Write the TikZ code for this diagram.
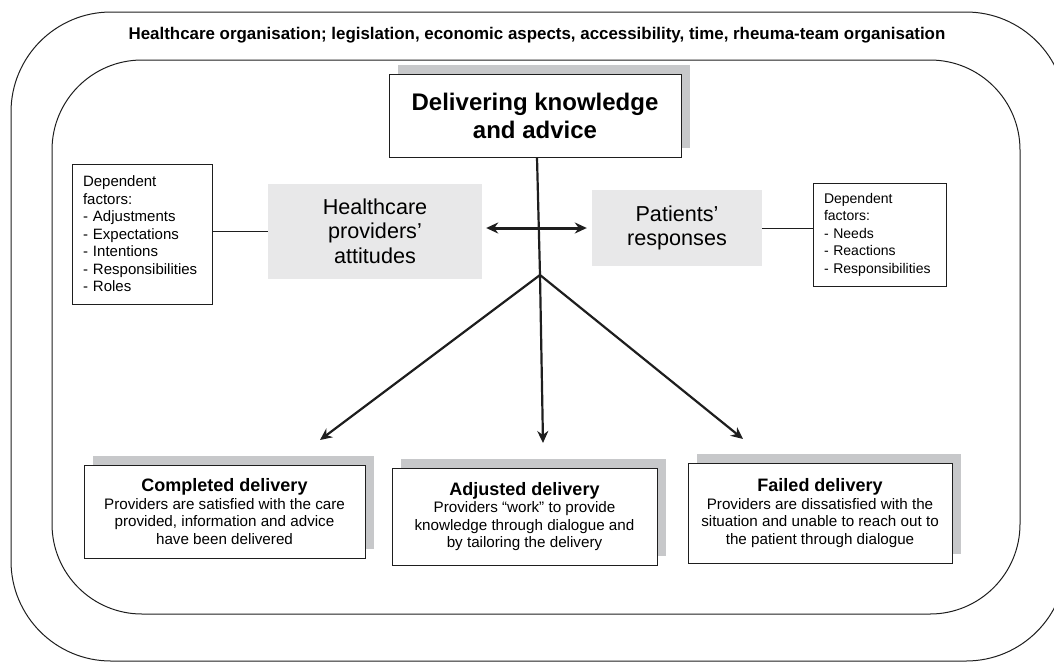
\documentclass[tikz,border=0pt]{standalone}
\usepackage{fontspec}
\setmainfont{Liberation Sans}
\usetikzlibrary{shapes}
\usetikzlibrary{arrows.meta}
\usetikzlibrary{shadows}
\definecolor{ombre}{RGB}{199,200,202}
\definecolor{fond}{RGB}{232,232,233}
\definecolor{trait}{RGB}{30,30,30}
\tikzstyle{cadre}=[draw=trait,line width=1pt]
\tikzstyle{entete}=[font=\bfseries\fontsize{16.9}{20}\selectfont]
\tikzstyle{savoir}=[
        rectangle,
        draw=trait,
        line width=1pt,
        fill=white,
        align=center,
        drop shadow={shadow xshift=9pt,shadow yshift=9pt,fill=ombre,opacity=1},
        font=\bfseries\fontsize{24}{28}\selectfont
]
\tikzstyle{facteurs}=[
        rectangle,
        draw=trait,
        line width=0.9pt,
        align=left,
        inner xsep=11pt,
        inner ysep=0pt,
        font=\fontsize{14}{17.5}\selectfont
]
\tikzstyle{acteur}=[rectangle,fill=fond,align=center,font=\fontsize{21.6}{24.5}\selectfont]
\tikzstyle{issue}=[
        rectangle,
        draw=trait,
        line width=1pt,
        fill=white,
        align=center,
        drop shadow={shadow xshift=9pt,shadow yshift=9pt,fill=ombre,opacity=1},
        font=\fontsize{15.2}{17.5}\selectfont
]
\tikzstyle{lien}=[draw=trait,line width=0.9pt]
\tikzstyle{suite}=[-{Stealth[length=12pt,width=11pt]},draw=trait,line width=2.2pt]
\tikzstyle{echange}=[{Stealth[length=12pt,width=11pt]}-{Stealth[length=12pt,width=11pt]},draw=trait,line width=3pt]

\begin{document}
\begin{tikzpicture}[x=1pt,y=-1pt]
\useasboundingbox (0,0) rectangle (1054,662);
\clip (0,0) rectangle (1054,662);
%Cadres
\draw[cadre,rounded corners=100pt] (11,12) rectangle (1066,661);
\draw[cadre,rounded corners=90pt] (52,60) rectangle (1020,614);
\node[entete] (orga) at (537,35) {Healthcare organisation; legislation, economic aspects, accessibility, time, rheuma-team organisation};
%Noeuds
\node[savoir,minimum width=292pt,minimum height=83pt] (savoir) at (535,115.5) {Delivering knowledge\\and advice};
\node[facteurs,text width=118pt,minimum height=140pt,font=\fontsize{15}{17.5}\selectfont] (facteursP) at (142,234) {Dependent\\factors:\\- Adjustments\\- Expectations\\- Intentions\\- Responsibilities\\- Roles};
\node[acteur,minimum width=214pt,minimum height=95pt] (soignants) at (375,231) {Healthcare\\providers’\\attitudes};
\node[acteur,minimum width=170pt,minimum height=76pt] (patients) at (677,228) {Patients’\\responses};
\node[facteurs,text width=111pt,minimum height=103pt] (facteursR) at (879.5,234.5) {Dependent\\factors:\\- Needs\\- Reactions\\- Responsibilities};
\node[issue,minimum width=281pt,minimum height=93pt] (complete) at (224.5,511.5) {{\bfseries\fontsize{18}{21}\selectfont Completed delivery}\\Providers are satisfied with the care\\provided, information and advice\\have been delivered};
\node[issue,minimum width=265pt,minimum height=97pt] (ajustee) at (524.5,516.5) {{\bfseries\fontsize{18}{21}\selectfont Adjusted delivery}\\Providers “work” to provide\\knowledge through dialogue and\\by tailoring the delivery};
\node[issue,minimum width=264pt,minimum height=100pt] (echec) at (820,513) {{\bfseries\fontsize{18}{21}\selectfont Failed delivery}\\Providers are dissatisfied with the\\situation and unable to reach out to\\the patient through dialogue};
\coordinate (fourche) at (540,275);
\coordinate (versC) at (320,440);
\coordinate (versA) at (543,443);
\coordinate (versE) at (743,439);
%Fleches
\draw[lien] (facteursP.east |- soignants.west) -- (soignants.west);
\draw[lien] (patients.east) -- (patients.east -| facteursR.west);
\draw[echange,shorten <=4pt,shorten >=5pt] (soignants.east |- patients.west) -- (patients.west);
\draw[suite] ([xshift=2pt]savoir.south) -- (fourche) -- (versA);
\draw[suite] (fourche) -- (versC);
\draw[suite] (fourche) -- (versE);
\end{tikzpicture}
\end{document}
